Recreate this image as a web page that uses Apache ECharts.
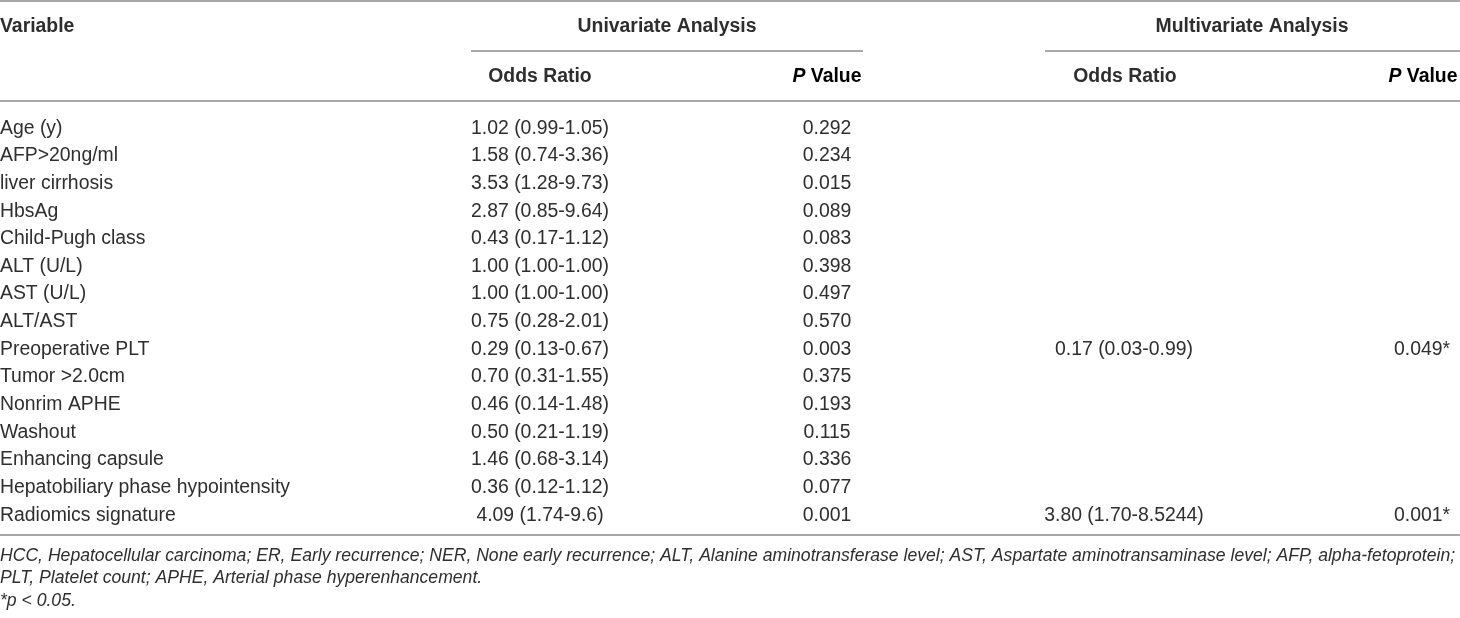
<!DOCTYPE html>
<html>
<head>
<meta charset="utf-8">
<script src="https://cdn.jsdelivr.net/npm/echarts@6/dist/echarts.min.js"></script>
<style>
html,body{margin:0;padding:0;background:#fff;}
#main{width:1460px;height:618px;}
</style>
</head>
<body>
<div id="main"></div>
<script>
// ---- data ----
const variables = [
  'Age (y)', 'AFP>20ng/ml', 'liver cirrhosis', 'HbsAg', 'Child-Pugh class',
  'ALT (U/L)', 'AST (U/L)', 'ALT/AST', 'Preoperative PLT', 'Tumor >2.0cm',
  'Nonrim APHE', 'Washout', 'Enhancing capsule', 'Hepatobiliary phase hypointensity',
  'Radiomics signature'
];
const uniOddsRatio = [
  '1.02 (0.99-1.05)', '1.58 (0.74-3.36)', '3.53 (1.28-9.73)', '2.87 (0.85-9.64)',
  '0.43 (0.17-1.12)', '1.00 (1.00-1.00)', '1.00 (1.00-1.00)', '0.75 (0.28-2.01)',
  '0.29 (0.13-0.67)', '0.70 (0.31-1.55)', '0.46 (0.14-1.48)', '0.50 (0.21-1.19)',
  '1.46 (0.68-3.14)', '0.36 (0.12-1.12)', '4.09 (1.74-9.6)'
];
const uniPValue = [
  '0.292', '0.234', '0.015', '0.089', '0.083', '0.398', '0.497', '0.570',
  '0.003', '0.375', '0.193', '0.115', '0.336', '0.077', '0.001'
];
const multiOddsRatio = ['', '', '', '', '', '', '', '', '0.17 (0.03-0.99)', '', '', '', '', '', '3.80 (1.70-8.5244)'];
const multiPValue = ['', '', '', '', '', '', '', '', '0.049*', '', '', '', '', '', '0.001*'];
const headerTop = ['Variable', 'Univariate Analysis', 'Multivariate Analysis'];
const headerSub = ['Odds Ratio', 'P Value'];
const footnotes = [
  'HCC, Hepatocellular carcinoma; ER, Early recurrence; NER, None early recurrence; ALT, Alanine aminotransferase level; AST, Aspartate aminotransaminase level; AFP, alpha-fetoprotein;',
  'PLT, Platelet count; APHE, Arterial phase hyperenhancement.',
  '*p < 0.05.'
];

// ---- layout (column anchors in layout units of the x axis) ----
const colAnchor = [0, 540, 827, 1124, 1422];
const colAlign = ['left', 'center', 'center', 'center', 'center'];
const FONT = '"Liberation Sans", Arial, Helvetica, sans-serif';
const TXT = '#2e2e2e';
const RULE = '#a8a8a8';
const FS = 19.4;
const FS_NOTE = 17.6;

const columns = [variables, uniOddsRatio, uniPValue, multiOddsRatio, multiPValue];
const cells = [];
columns.forEach((col, c) => col.forEach((t, r) => { if (t !== '') cells.push([c, r, t]); }));

const chart = echarts.init(document.getElementById('main'), null, {renderer: 'canvas'});

function hline(x1, x2, y) {
  return {type: 'line', shape: {x1: x1, y1: y, x2: x2, y2: y}, style: {stroke: RULE, lineWidth: 2}, silent: true};
}
function htext(x, y, text, align) {
  return {type: 'text', x: x, y: y, style: {text: text, align: align, verticalAlign: 'middle',
    font: 'bold ' + FS + 'px ' + FONT, fill: TXT}, silent: true};
}
const pRich = {
  i: {fontStyle: 'italic', fontWeight: 'bold', fontSize: FS, fontFamily: FONT, color: TXT},
  b: {fontWeight: 'bold', fontSize: FS, fontFamily: FONT, color: TXT}
};
function ptext(x, y) {
  return {type: 'text', x: x, y: y, style: {text: '{i|P}{b| Value}', align: 'center', verticalAlign: 'middle', rich: pRich}, silent: true};
}

const graphic = [
  hline(0, 1460, 1),
  hline(471, 863, 51),
  hline(1045, 1460, 51),
  hline(0, 1460, 101),
  hline(0, 1460, 535),
  htext(0, 27, headerTop[0], 'left'),
  htext(667, 27, headerTop[1], 'center'),
  htext(1252, 27, headerTop[2], 'center'),
  htext(540, 77, headerSub[0], 'center'),
  ptext(827, 77),
  htext(1125, 77, headerSub[0], 'center'),
  ptext(1423, 77)
];
footnotes.forEach((f, i) => {
  graphic.push({type: 'text', x: 0, y: 556 + i * 22.5, style: {text: f, align: 'left', verticalAlign: 'middle',
    font: 'italic ' + FS_NOTE + 'px ' + FONT, fill: TXT}, silent: true});
});

chart.setOption({
  animation: false,
  backgroundColor: '#ffffff',
  grid: {left: 0, right: 0, top: 114.5, height: 414.5},
  xAxis: {type: 'value', min: 0, max: 1460, show: false},
  yAxis: {type: 'category', data: variables, inverse: true, show: false},
  graphic: graphic,
  series: [{
    type: 'custom',
    data: cells,
    encode: {x: 0, y: 1},
    renderItem: function (params, api) {
      const c = api.value(0);
      const r = api.value(1);
      const p = api.coord([colAnchor[c], r]);
      return {
        type: 'text',
        x: p[0], y: p[1],
        style: {text: cells[params.dataIndex][2], align: colAlign[c], verticalAlign: 'middle',
          font: FS + 'px ' + FONT, fill: TXT}
      };
    }
  }]
});
</script>
</body>
</html>
